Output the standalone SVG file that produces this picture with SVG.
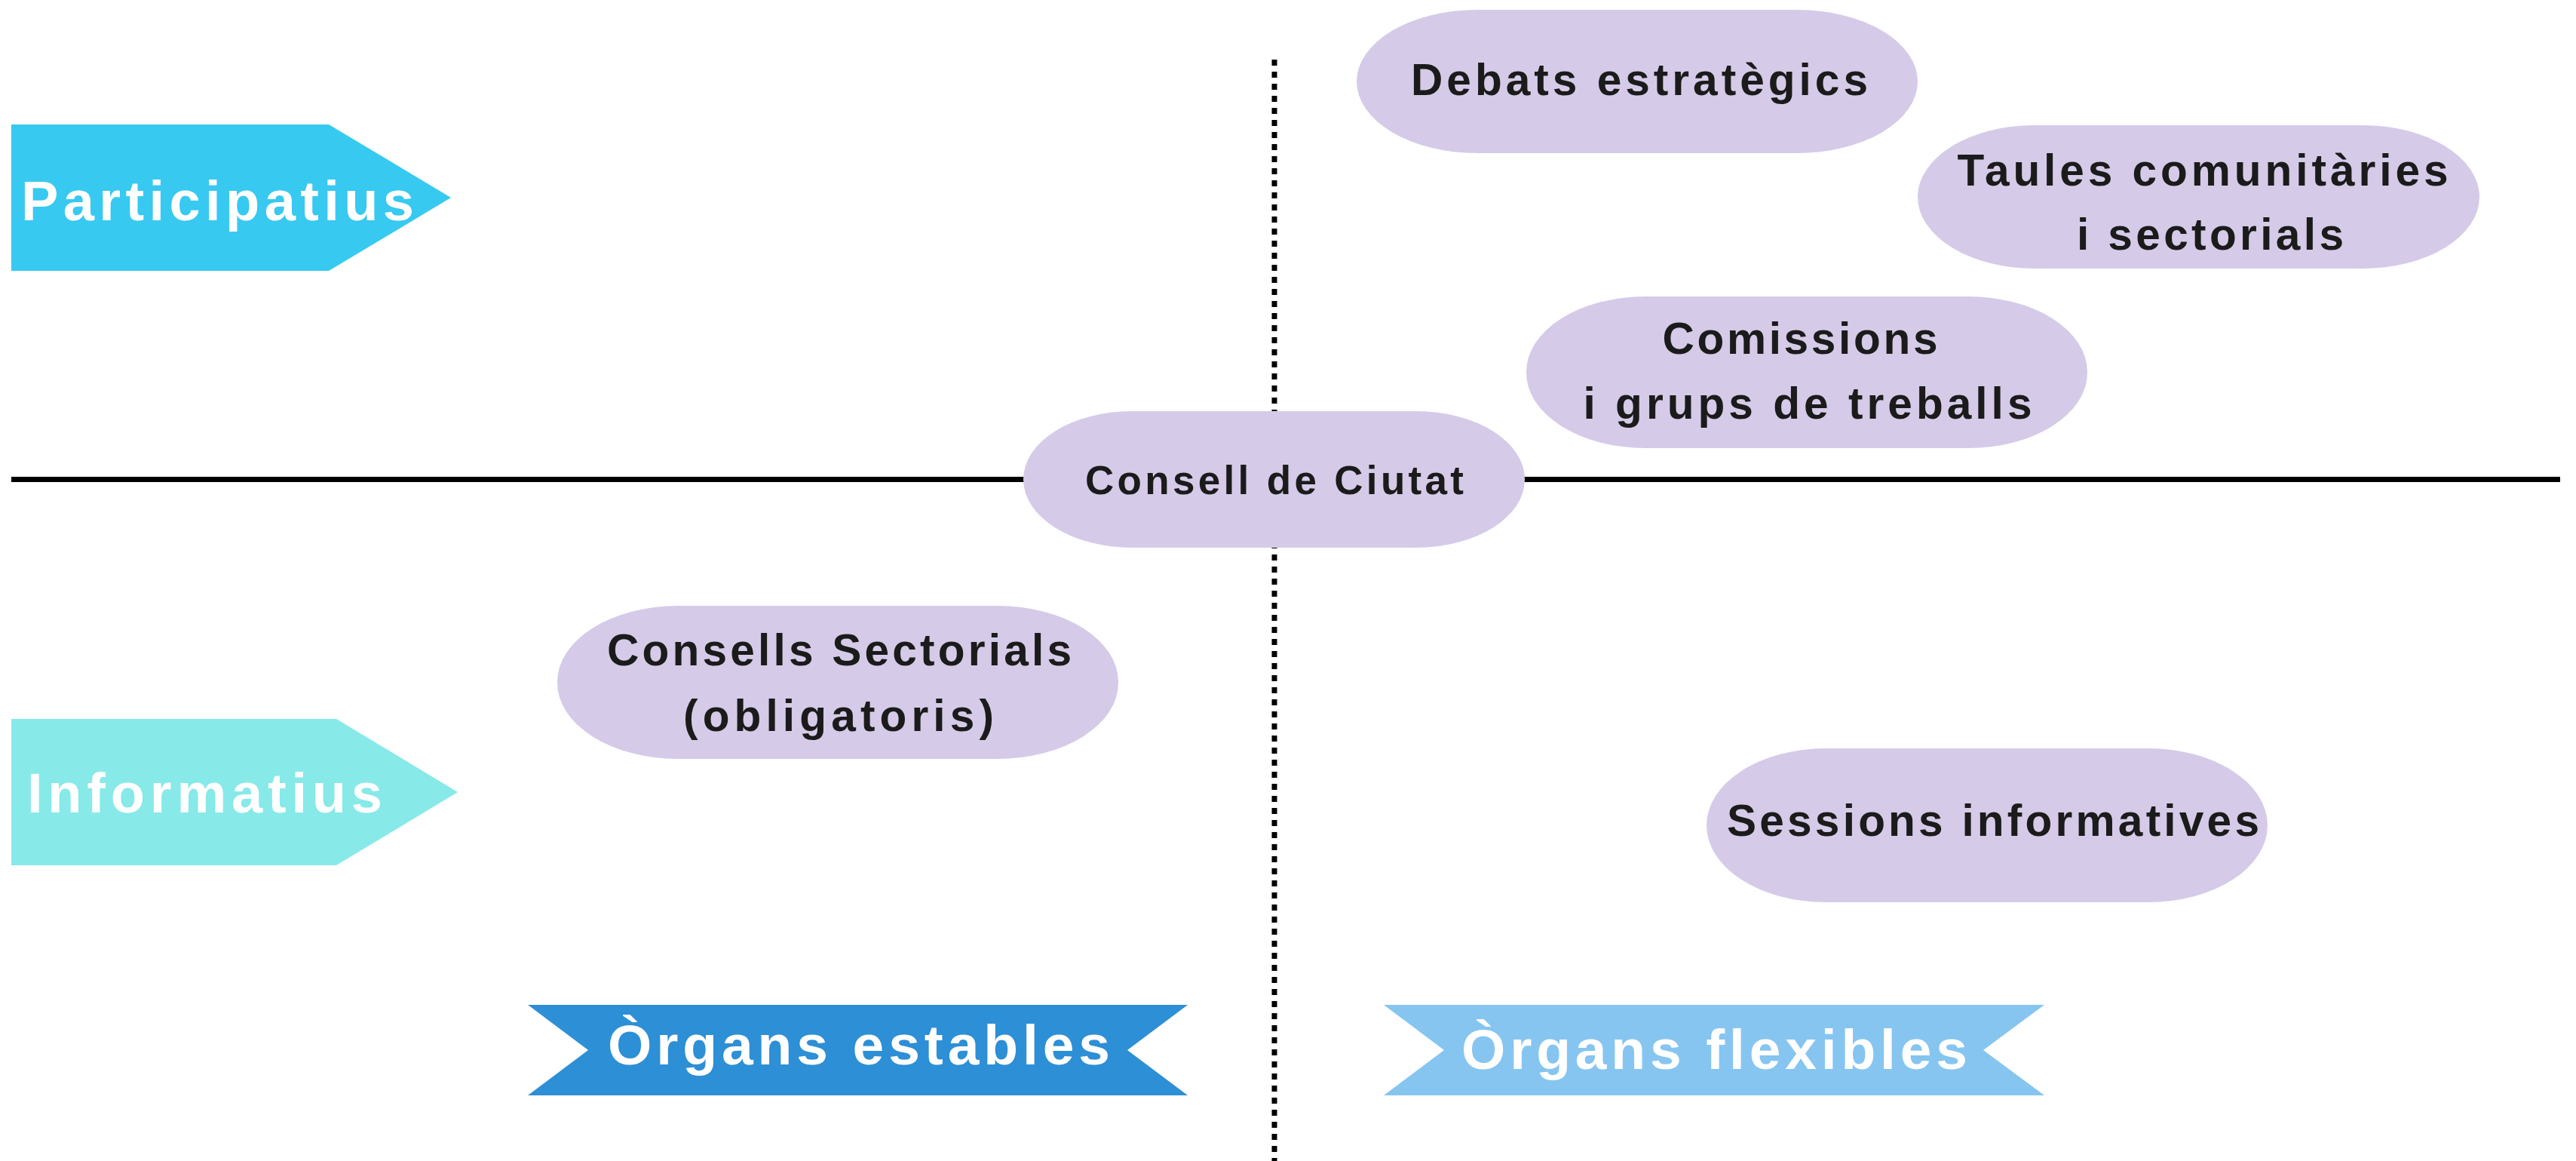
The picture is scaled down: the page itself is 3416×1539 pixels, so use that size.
<svg xmlns="http://www.w3.org/2000/svg" width="3416" height="1539" viewBox="0 0 3416 1539">
<style>
.pill{fill:#D5CBE8}
.pt{font-family:"Liberation Sans",Arial,sans-serif;font-weight:bold;font-size:58.6px;fill:#1B1B1B;text-anchor:middle}
.lab{font-family:"Liberation Sans",Arial,sans-serif;font-weight:bold;font-size:74px;fill:#FFFFFF}
</style>
<rect width="3416" height="1539" fill="#FFFFFF"/>
<g id="connectors">
<line x1="15" y1="635.5" x2="3395" y2="635.5" stroke="#000000" stroke-width="7"/>
<line x1="1690" y1="79" x2="1690" y2="1539" stroke="#000000" stroke-width="7" stroke-dasharray="8 8"/>
</g>
<g id="participatius">
<polygon points="15,165 436,165 598,262 436,359 15,359" fill="#38C9F0"/>
<text class="lab" x="28" y="292" textLength="521" lengthAdjust="spacing">Participatius</text>
</g>
<g id="informatius">
<polygon points="15,953 446,953 607,1050 446,1147 15,1147" fill="#87E9E8"/>
<text class="lab" x="36" y="1077" textLength="471" lengthAdjust="spacing">Informatius</text>
</g>
<g id="debats">
<rect class="pill" x="1799" y="13" width="744" height="190" rx="160" ry="95"/>
<text class="pt" x="2174" y="126" textLength="606" lengthAdjust="spacing">Debats estratègics</text>
</g>
<g id="taules">
<rect class="pill" x="2543" y="166" width="745" height="190" rx="155" ry="95"/>
<text class="pt" x="2921" y="246" textLength="651" lengthAdjust="spacing">Taules comunitàries</text>
<text class="pt" x="2931" y="331" textLength="354" lengthAdjust="spacing">i sectorials</text>
</g>
<g id="comissions">
<rect class="pill" x="2024" y="393" width="744" height="201" rx="158" ry="100"/>
<text class="pt" x="2387" y="469" textLength="365" lengthAdjust="spacing">Comissions</text>
<text class="pt" x="2397" y="555" textLength="595" lengthAdjust="spacing">i grups de treballs</text>
</g>
<g id="consell-ciutat">
<rect class="pill" x="1357" y="545" width="665" height="181" rx="144" ry="90.5"/>
<text class="pt" x="1690" y="655" style="font-size:53px" textLength="502" lengthAdjust="spacing">Consell de Ciutat</text>
</g>
<g id="consells-sectorials">
<rect class="pill" x="739" y="803" width="744" height="203" rx="160" ry="101"/>
<text class="pt" x="1113" y="882" textLength="616" lengthAdjust="spacing">Consells Sectorials</text>
<text class="pt" x="1112" y="969" textLength="412" lengthAdjust="spacing">(obligatoris)</text>
</g>
<g id="sessions">
<rect class="pill" x="2263" y="992" width="744" height="204" rx="158" ry="102"/>
<text class="pt" x="2643" y="1108" textLength="706" lengthAdjust="spacing">Sessions informatives</text>
</g>
<g id="organs-estables">
<polygon points="700,1332 1575,1332 1495,1392 1575,1452 700,1452 780,1392" fill="#2D8FD5"/>
<text class="lab" x="806" y="1411" style="font-size:75px" textLength="666" lengthAdjust="spacing">Òrgans estables</text>
</g>
<g id="organs-flexibles">
<polygon points="1835,1332 2711,1332 2630,1392 2711,1452 1835,1452 1915,1392" fill="#86C5F0"/>
<text class="lab" x="1938" y="1417" style="font-size:75px" textLength="671" lengthAdjust="spacing">Òrgans flexibles</text>
</g>
</svg>
